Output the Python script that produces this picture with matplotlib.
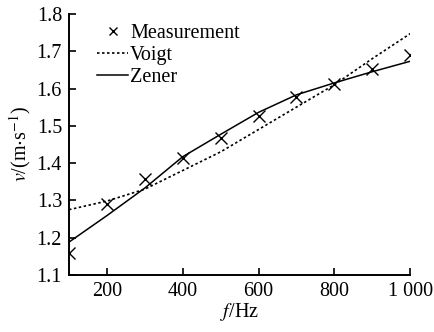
import matplotlib.pyplot as plt
from matplotlib.ticker import FuncFormatter

plt.rcParams['font.family'] = ['Liberation Serif', 'DejaVu Serif']
plt.rcParams['mathtext.fontset'] = 'stix'

# values
freq = [100, 200, 300, 400, 500, 600, 700, 800, 900, 1000]
measured = [1.158, 1.290, 1.358, 1.413, 1.468, 1.527, 1.578, 1.613, 1.653, 1.689]
voigt = [1.275, 1.298, 1.330, 1.380, 1.430, 1.490, 1.550, 1.610, 1.680, 1.747]
zener = [1.188, 1.259, 1.333, 1.417, 1.477, 1.536, 1.583, 1.615, 1.645, 1.673]
xticks = [200, 400, 600, 800, 1000]
yticks = [1.1, 1.2, 1.3, 1.4, 1.5, 1.6, 1.7, 1.8]

fs = 14.5

fig = plt.figure(figsize=(4.34, 3.32), dpi=100)
ax = fig.add_axes([0.159, 0.172, 0.786, 0.786])

ax.plot(freq, measured, 'x', color='black', markersize=8, markeredgewidth=1.0,
        label='Measurement')
ax.plot(freq, voigt, color='black', linewidth=1.2, linestyle=(0, (1.5, 1.5)),
        label='Voigt')
ax.plot(freq, zener, '-', color='black', linewidth=1.1, label='Zener')

ax.set_xlim(100, 1000)
ax.set_ylim(1.1, 1.8)
ax.set_xticks(xticks)
ax.set_yticks(yticks)
ax.xaxis.set_major_formatter(FuncFormatter(
    lambda v, p: '1 000' if v == 1000 else '%d' % v))
ax.yaxis.set_major_formatter(FuncFormatter(lambda v, p: '%.1f' % v))

for s in ['top', 'right']:
    ax.spines[s].set_visible(False)
for s in ['left', 'bottom']:
    ax.spines[s].set_linewidth(1.4)
ax.tick_params(direction='in', length=5, width=1.2, labelsize=fs, pad=5)

ax.set_xlabel(r'$f$/Hz', fontsize=fs, labelpad=0)
ax.set_ylabel(r'$v$/(m$\cdot$s$^{-1}$)', fontsize=fs, labelpad=3)

ax.legend(loc='upper left', bbox_to_anchor=(0.082, 0.962), frameon=False,
          fontsize=fs, handlelength=1.55, handletextpad=0.1, labelspacing=0.15,
          borderaxespad=0, borderpad=0, numpoints=1, markerscale=0.7)

fig.savefig('out.png', dpi=100)
